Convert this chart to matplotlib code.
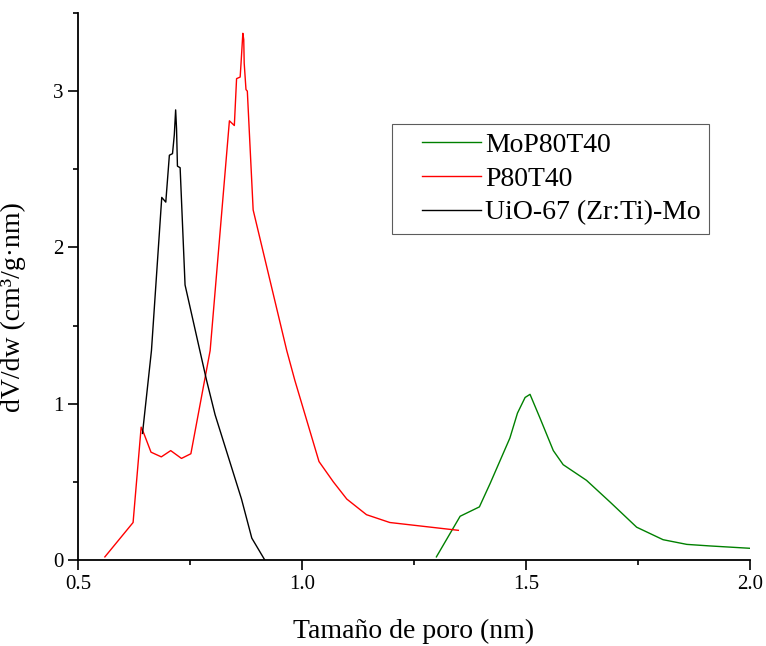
import matplotlib
matplotlib.use("Agg")
import matplotlib.pyplot as plt
from matplotlib.ticker import MultipleLocator
from matplotlib.legend_handler import HandlerLine2D
from matplotlib.lines import Line2D

plt.rcParams['font.family'] = ['Liberation Serif', 'DejaVu Serif']

# datos
mo_x = [1.300, 1.353, 1.396, 1.420, 1.464, 1.481, 1.498, 1.509, 1.531, 1.561,
        1.583, 1.635, 1.688, 1.747, 1.806, 1.859, 1.911, 2.000]
mo_y = [0.02, 0.28, 0.34, 0.49, 0.78, 0.94, 1.04, 1.06, 0.91, 0.70,
        0.61, 0.51, 0.37, 0.21, 0.13, 0.10, 0.09, 0.075]

p_x = [0.560, 0.623, 0.641, 0.647, 0.663, 0.686, 0.707, 0.731, 0.752, 0.795,
       0.838, 0.849, 0.854, 0.862, 0.864, 0.868, 0.870, 0.871, 0.875, 0.878,
       0.891, 0.966, 0.984, 1.038, 1.070, 1.100, 1.144, 1.196, 1.349]
p_y = [0.02, 0.24, 0.85, 0.81, 0.69, 0.66, 0.70, 0.65, 0.68, 1.34,
       2.81, 2.78, 3.08, 3.09, 3.18, 3.37, 3.33, 3.18, 3.01, 3.00,
       2.24, 1.34, 1.15, 0.63, 0.50, 0.39, 0.29, 0.24, 0.19]

uio_x = [0.644, 0.664, 0.687, 0.696, 0.704, 0.711, 0.715, 0.718, 0.720, 0.722,
         0.728, 0.739, 0.772, 0.787, 0.806, 0.865, 0.888, 0.917]
uio_y = [0.81, 1.34, 2.32, 2.29, 2.59, 2.60, 2.72, 2.88, 2.76, 2.52,
         2.51, 1.76, 1.34, 1.15, 0.93, 0.39, 0.14, 0.0]

labels = ['MoP80T40', 'P80T40', 'UiO-67 (Zr:Ti)-Mo']

fig = plt.figure(figsize=(7.66, 6.46), dpi=100)
ax = fig.add_axes([0.1018, 0.1331, 0.8773, 0.8468])

ax.plot(mo_x, mo_y, color='#008000', lw=1.0, label=labels[0])
ax.plot(p_x, p_y, color='#ff0000', lw=1.0, label=labels[1])
ax.plot(uio_x, uio_y, color='black', lw=1.0, label=labels[2])

ax.set_xlim(0.5, 2.0)
ax.set_ylim(0, 3.5)
ax.xaxis.set_major_locator(MultipleLocator(0.5))
ax.xaxis.set_minor_locator(MultipleLocator(0.25))
ax.yaxis.set_major_locator(MultipleLocator(1))
ax.yaxis.set_minor_locator(MultipleLocator(0.5))
ax.set_xticks([0.5, 1.0, 1.5, 2.0])
ax.set_xticklabels(['0.5', '1.0', '1.5', '2.0'])

for s in ['top', 'right']:
    ax.spines[s].set_visible(False)
for s in ['left', 'bottom']:
    ax.spines[s].set_linewidth(1.3)

ax.tick_params(which='major', direction='out', length=7, width=1.2, labelsize=15)
ax.tick_params(which='minor', direction='out', length=3.5, width=1.2)

ax.set_xlabel('Tamaño de poro (nm)', fontsize=20, labelpad=18)
ax.set_ylabel('dV/dw (cm³/g·nm)', fontsize=20)
ax.yaxis.set_label_coords(-0.078, 0.4625)

leg = ax.legend(loc='upper left', bbox_to_anchor=(0.467, 0.797), fontsize=20,
                frameon=True, fancybox=False, edgecolor='#333333',
                handlelength=2.9, handletextpad=0.15, labelspacing=0.3,
                borderpad=0.3, borderaxespad=0,
                handler_map={Line2D: HandlerLine2D(xpad=0.8)})
leg.get_frame().set_linewidth(0.8)

fig.savefig('out.png', dpi=100)
